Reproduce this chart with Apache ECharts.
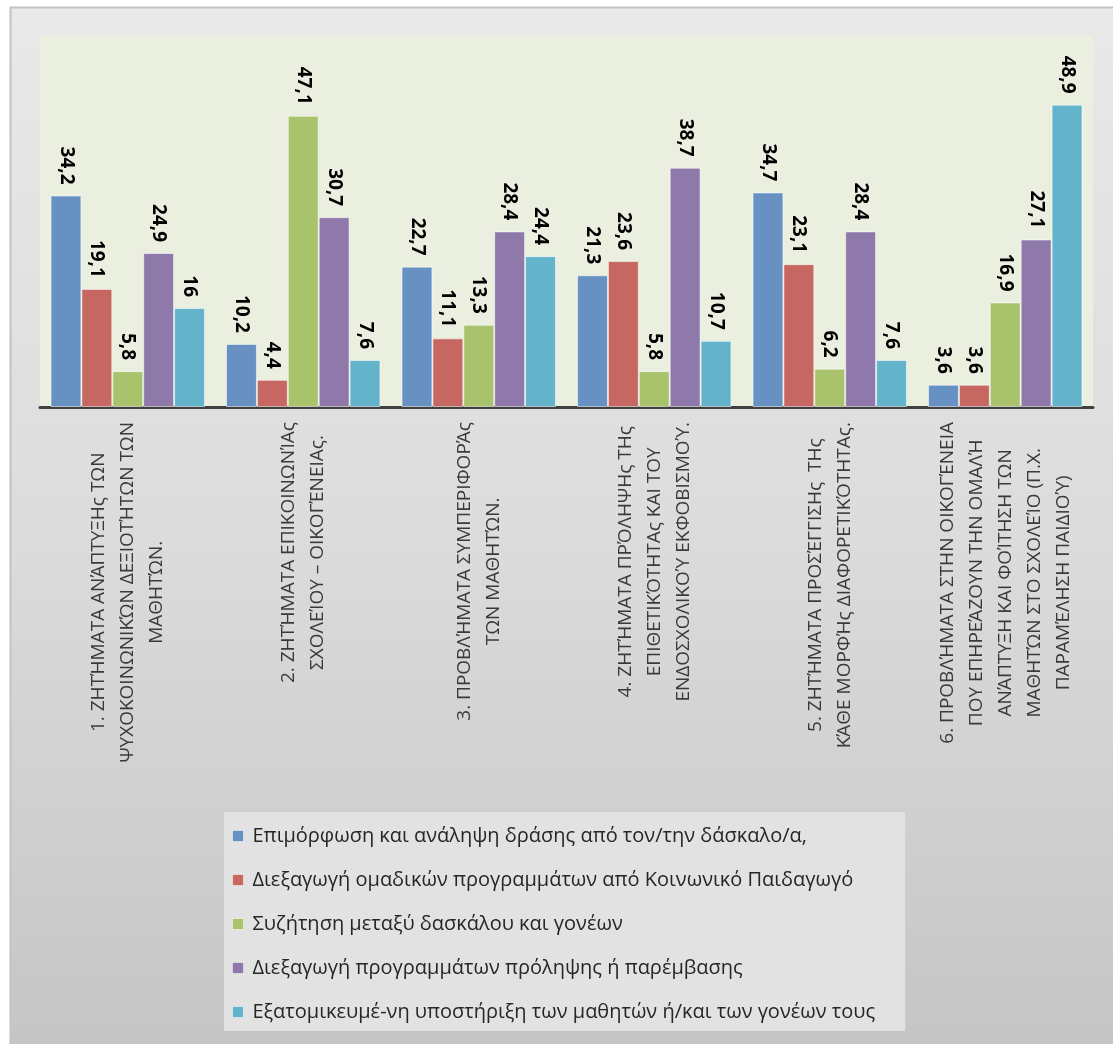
<!DOCTYPE html>
<html>
<head>
<meta charset="utf-8">
<title>Αντιμετώπιση προβλημάτων</title>
<script src="https://cdn.jsdelivr.net/npm/echarts@6/dist/echarts.min.js"></script>
<style>
  html, body { margin: 0; padding: 0; background: #ffffff; }
  #chart { width: 1113px; height: 1044px; }
</style>
</head>
<body>
<div id="chart"></div>
<script>
// Problem areas (category axis), one entry per group of bars
const categories = [
  '1. ΖΗΤΉΜΑΤΑ ΑΝΆΠΤΥΞΗς ΤΩΝ\nΨΥΧΟΚΟΙΝΩΝΙΚΏΝ ΔΕΞΙΟΤΉΤΩΝ ΤΩΝ\nΜΑΘΗΤΏΝ.',
  '2. ΖΗΤΉΜΑΤΑ ΕΠΙΚΟΙΝΩΝΊΑς\nΣΧΟΛΕΊΟΥ – ΟΙΚΟΓΈΝΕΙΑς.',
  '3. ΠΡΟΒΛΉΜΑΤΑ ΣΥΜΠΕΡΙΦΟΡΆς\nΤΩΝ ΜΑΘΗΤΏΝ.',
  '4. ΖΗΤΉΜΑΤΑ ΠΡΌΛΗΨΗς ΤΗς\nΕΠΙΘΕΤΙΚΌΤΗΤΑς ΚΑΙ ΤΟΥ\nΕΝΔΟΣΧΟΛΙΚΟΎ ΕΚΦΟΒΙΣΜΟΎ.',
  '5. ΖΗΤΉΜΑΤΑ ΠΡΟΣΈΓΓΙΣΗς  ΤΗς\nΚΆΘΕ ΜΟΡΦΉς ΔΙΑΦΟΡΕΤΙΚΌΤΗΤΑς.',
  '6. ΠΡΟΒΛΉΜΑΤΑ ΣΤΗΝ ΟΙΚΟΓΈΝΕΙΑ\nΠΟΥ ΕΠΗΡΕΆΖΟΥΝ ΤΗΝ ΟΜΑΛΉ\nΑΝΆΠΤΥΞΗ ΚΑΙ ΦΟΊΤΗΣΗ ΤΩΝ\nΜΑΘΗΤΏΝ ΣΤΟ ΣΧΟΛΕΊΟ (Π.Χ.\nΠΑΡΑΜΈΛΗΣΗ ΠΑΙΔΙΟΎ)'
];

// Series names (legend entries)
const seriesNames = [
  'Επιμόρφωση και ανάληψη δράσης από τον/την δάσκαλο/α,',
  'Διεξαγωγή ομαδικών προγραμμάτων από Κοινωνικό Παιδαγωγό',
  'Συζήτηση μεταξύ δασκάλου και γονέων',
  'Διεξαγωγή προγραμμάτων πρόληψης ή παρέμβασης',
  'Εξατομικευμέ-νη υποστήριξη των μαθητών ή/και των γονέων τους'
];

// Percentages per series, in category order
const trainingTeacher    = [34.2, 10.2, 22.7, 21.3, 34.7, 3.6];
const groupPrograms      = [19.1, 4.4, 11.1, 23.6, 23.1, 3.6];
const teacherParentTalk  = [5.8, 47.1, 13.3, 5.8, 6.2, 16.9];
const preventionPrograms = [24.9, 30.7, 28.4, 38.7, 28.4, 27.1];
const individualSupport  = [16, 7.6, 24.4, 10.7, 7.6, 48.9];

const seriesValues = [trainingTeacher, groupPrograms, teacherParentTalk, preventionPrograms, individualSupport];
const seriesColors = ['#6791c3', '#c66761', '#a8c36c', '#8f79ab', '#63b4cb'];

const chart = echarts.init(document.getElementById('chart'), null, { renderer: 'canvas' });

const catFont = "'Open Sans', sans-serif";
const legendFont = "'Open Sans', sans-serif";

const option = {
  backgroundColor: '#ffffff',
  animation: false,
  graphic: [
    {
      // outer chart frame with its soft grey fill
      type: 'rect',
      z: -10,
      silent: true,
      shape: { x: 10.5, y: 7.5, width: 1110, height: 1044 },
      style: {
        fill: {
          type: 'linear', x: 0, y: 0, x2: 0, y2: 1,
          colorStops: [
            { offset: 0, color: '#e9e9e9' },
            { offset: 0.5, color: '#dcdcdc' },
            { offset: 1, color: '#c5c5c5' }
          ]
        },
        stroke: '#c2c2c2',
        lineWidth: 2
      }
    }
  ],
  grid: {
    left: 40,
    right: 20,
    top: 36,
    bottom: 637,
    show: true,
    backgroundColor: '#ebefdf',
    borderWidth: 0
  },
  legend: {
    orient: 'vertical',
    left: 224,
    top: 812,
    backgroundColor: '#e2e2e2',
    padding: [13, 30, 8, 8],
    itemGap: 22,
    itemWidth: 11,
    itemHeight: 11,
    icon: 'rect',
    selectedMode: false,
    itemStyle: { borderColor: 'rgba(255,255,255,0.5)', borderWidth: 1 },
    textStyle: {
      fontFamily: legendFont,
      fontSize: 20,
      lineHeight: 22,
      color: '#262626',
      padding: [0, 0, 0, 4]
    },
    data: seriesNames
  },
  xAxis: {
    type: 'category',
    data: categories,
    axisLine: { show: true, lineStyle: { color: '#404040', width: 3 } },
    axisTick: { show: false },
    splitLine: { show: false },
    axisLabel: {
      interval: 0,
      rotate: 90,
      margin: 15,
      formatter: function (v) {
        return v.split('\n').map(function (s) { return '{c|' + s + '}'; }).join('\n');
      },
      rich: {
        c: {
          align: 'center',
          fontFamily: catFont,
          fontSize: 19,
          lineHeight: 29,
          color: '#3a3a3a'
        }
      }
    }
  },
  yAxis: {
    type: 'value',
    min: 0,
    max: 60,
    show: false,
    splitLine: { show: false }
  },
  series: seriesNames.map(function (name, i) {
    return {
      name: name,
      type: 'bar',
      data: seriesValues[i],
      barGap: '0%',
      barCategoryGap: '12%',
      itemStyle: {
        color: seriesColors[i],
        borderColor: 'rgba(255,255,255,0.55)',
        borderWidth: 1
      },
      label: {
        show: true,
        position: 'top',
        rotate: -90,
        align: 'right',
        verticalAlign: 'middle',
        distance: 11,
        fontFamily: "'Open Sans', sans-serif",
        fontWeight: 'bold',
        fontSize: 19,
        color: '#000000',
        formatter: function (p) { return String(p.value).replace('.', ','); }
      }
    };
  })
};

chart.setOption(option);
</script>
</body>
</html>
